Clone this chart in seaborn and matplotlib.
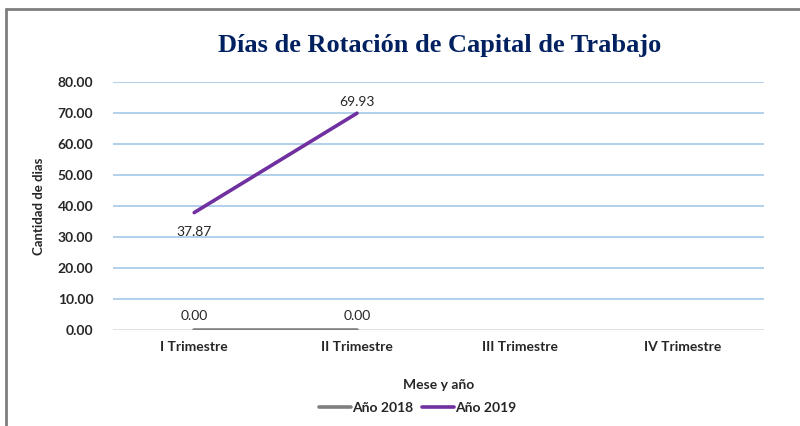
import numpy as np
import pandas as pd
import matplotlib
matplotlib.use("Agg")
import matplotlib.pyplot as plt
from matplotlib.lines import Line2D
import seaborn as sns

trimestres = ["I Trimestre", "II Trimestre", "III Trimestre", "IV Trimestre"]
anio_2018 = [0.00, 0.00, None, None]
anio_2019 = [37.87, 69.93, None, None]

rows = []
for i, t in enumerate(trimestres):
    if anio_2018[i] is not None:
        rows.append({"Trimestre": t, "pos": i, "Serie": "Año 2018", "Dias": anio_2018[i]})
    if anio_2019[i] is not None:
        rows.append({"Trimestre": t, "pos": i, "Serie": "Año 2019", "Dias": anio_2019[i]})
df = pd.DataFrame(rows)

sns.set_theme(style="white")
plt.rcParams['font.family'] = ['Lato', 'DejaVu Sans']

fig = plt.figure(figsize=(8, 4.26), dpi=100)
ax = fig.add_axes([0.141, 0.2254, 0.814, 0.5821])

colores = {"Año 2018": "#7F7F7F", "Año 2019": "#7030A0"}
sns.lineplot(data=df, x="pos", y="Dias", hue="Serie", palette=colores,
             linewidth=2.6, ax=ax, legend=False)

ax.set_xlim(-0.5, 3.5)
ax.set_ylim(0, 80)
ax.set_yticks(np.arange(0, 81, 10))
ax.set_yticklabels([f"{v:.2f}" for v in np.arange(0, 81, 10)], fontweight="bold", fontsize=10)
ax.set_xticks(range(len(trimestres)))
ax.set_xticklabels(trimestres, fontweight="bold", fontsize=10)
ax.tick_params(axis="y", pad=14, length=0)
ax.tick_params(axis="x", pad=8, length=0)

for v in np.arange(10, 81, 10):
    ax.axhline(v, color="#9DC3E6", linewidth=1.1, zorder=0)
ax.axhline(0, color="#D9D9D9", linewidth=1.1, zorder=0)
for s in ax.spines.values():
    s.set_visible(False)

# etiquetas de datos
for i, v in enumerate(anio_2019):
    if v is None:
        continue
    off = -14 if i == 0 else 8
    ax.annotate(f"{v:.2f}", (i, v), xytext=(0, off), textcoords="offset points",
                ha="center", va="center", fontsize=10, color="#262626")
for i, v in enumerate(anio_2018):
    if v is None:
        continue
    ax.annotate(f"{v:.2f}", (i, v), xytext=(0, 10), textcoords="offset points",
                ha="center", va="center", fontsize=10, color="#262626")

ax.set_xlabel("Mese y año", fontweight="bold", fontsize=10, labelpad=19)
ax.set_ylabel("Cantidad de dias", fontweight="bold", fontsize=9.5, labelpad=9)

fig.text(0.549, 0.893, "Días de Rotación de Capital de Trabajo", ha="center", va="center",
         fontsize=19, fontweight="bold", color="#002060", family=["Liberation Serif"])

handles = [Line2D([0], [0], color=colores[k], linewidth=2.6) for k in colores]
fig.legend(handles, list(colores.keys()), loc="center", bbox_to_anchor=(0.522, 0.042),
           ncol=2, frameon=False, handlelength=2.3, handletextpad=0.1, columnspacing=0.6,
           prop={"weight": "bold", "size": 10})

# marco del gráfico
fig.add_artist(Line2D([0.007, 1.0], [0.979, 0.979], color="#7F7F7F", linewidth=2,
                      transform=fig.transFigure))
fig.add_artist(Line2D([0.007, 0.007], [0.0, 0.979], color="#7F7F7F", linewidth=2,
                      transform=fig.transFigure))

fig.savefig("out.png", dpi=100)
